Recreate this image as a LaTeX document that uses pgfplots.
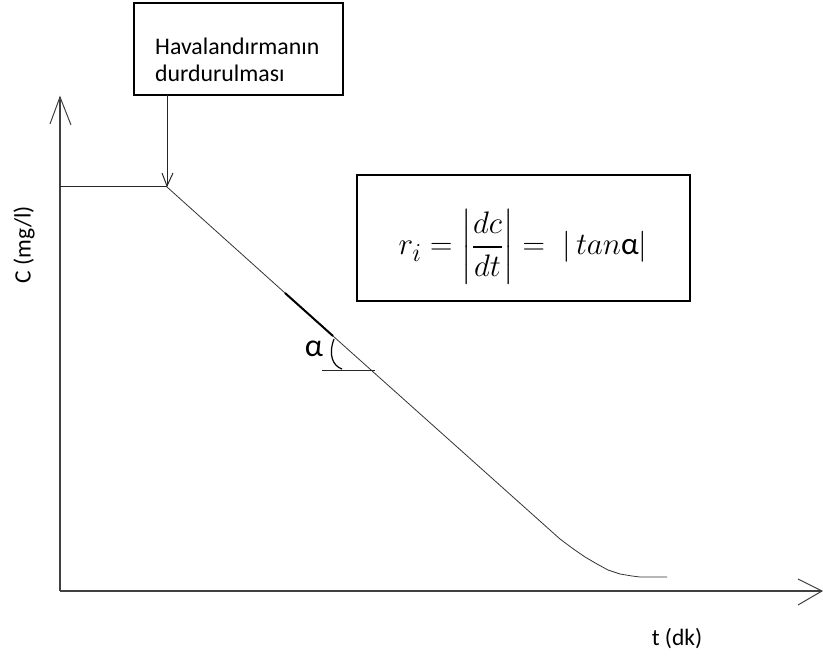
\documentclass[border=0pt]{standalone}
\usepackage{amsmath}
\usepackage{graphicx}
\usepackage{pgfplots}
\pgfplotsset{compat=1.18}
\usepackage{fontspec}
\setmainfont{Carlito}
\begin{document}
\begin{tikzpicture}
\begin{axis}[
  at={(0,0)}, anchor=south west,
  scale only axis, width=823pt, height=657pt,
  xmin=0, xmax=823, ymin=0, ymax=657,
  hide axis, clip=false,
]
% axes
\draw[line width=1.3pt, black!75] (axis cs:60,66) -- (axis cs:60,560);
\draw[line width=1pt, black!75] (axis cs:50,533) -- (axis cs:60,560) -- (axis cs:71,532);
\draw[line width=1.3pt, black!75] (axis cs:60,66) -- (axis cs:822,66);
\draw[line width=1pt, black!75] (axis cs:798,78) -- (axis cs:822,66) -- (axis cs:798,52);
% data curve
\addplot[line width=1pt, black!85] coordinates {
  (60,470) (167,470)
};
\addplot[line width=0.8pt, black!80] coordinates {
  (167,470) (285,364) (333,321) (560,118) (572,109) (585,100) (597,93)
  (608,87) (620,83) (632,81) (640,80) (667,80)
};
\addplot[line width=2pt, black] coordinates {(285,364) (333,321)};
% angle marker
\draw[line width=1pt, black!85] (axis cs:322,286) -- (axis cs:375,286);
\draw[line width=1.2pt, black] (axis cs:334,318) .. controls (axis cs:328,302) and (axis cs:333,291) .. (axis cs:342,288);
\node[inner sep=0pt] at (axis cs:314,308) {\fontsize{32}{36}\selectfont α};
% top box
\draw[line width=1.8pt] (axis cs:134,654) rectangle (axis cs:343,562);
\node[anchor=base west, inner sep=0pt] at (axis cs:155,602) {\fontsize{23.8}{28}\selectfont Havalandırmanın};
\node[anchor=base west, inner sep=0pt] at (axis cs:155,575) {\fontsize{23.8}{28}\selectfont durdurulması};
\draw[line width=1pt, black!85] (axis cs:167,562) -- (axis cs:167,471);
\draw[line width=1pt, black!85] (axis cs:162,484) -- (axis cs:167,471) -- (axis cs:173,484);
% equation box
\draw[line width=1.8pt] (axis cs:357,482) rectangle (axis cs:690,356);
\node[inner sep=0pt] at (axis cs:523,410) {\scalebox{1.25}{\fontsize{24.88}{30}\selectfont $\displaystyle r_i = \left|\frac{dc}{dt}\right| = \;\left|\,tan\text{α}\right|$}};
% labels
\node[rotate=90, inner sep=0pt] at (axis cs:24,412) {\fontsize{23.5}{28}\selectfont C (mg/l)};
\node[inner sep=0pt] at (axis cs:677,18) {\fontsize{23.5}{28}\selectfont t (dk)};
\end{axis}
\pgfresetboundingbox
\path[use as bounding box] (0,0) rectangle (823pt,657pt);
\end{tikzpicture}
\end{document}
